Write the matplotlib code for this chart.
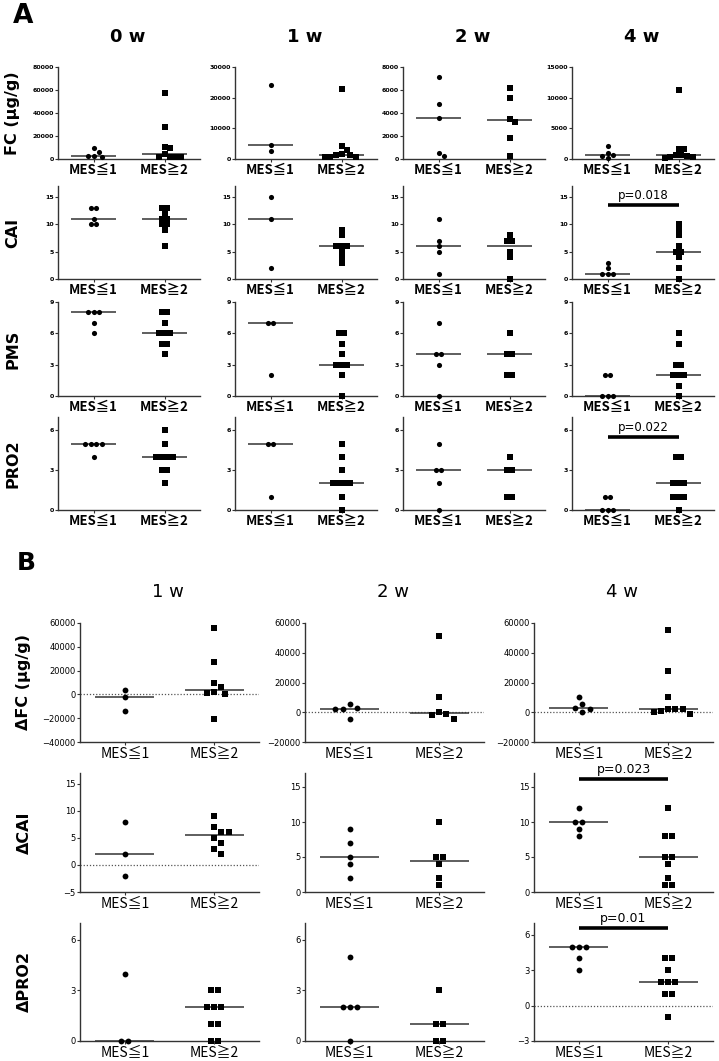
import numpy as np
import matplotlib
matplotlib.use("Agg")
import matplotlib.pyplot as plt
from matplotlib import font_manager

# ---- data ----
groups = ["MES≦1", "MES≧2"]
weeks_a = ["0 w", "1 w", "2 w", "4 w"]
weeks_b = ["1 w", "2 w", "4 w"]

# panel A: per week lists, MES<=1 (circles) and MES>=2 (squares)
fc_le1 = [[10000, 6500, 3000, 2500, 2000], [24200, 4500, 2700],
          [7100, 4800, 3600, 500, 300], [2100, 1000, 600, 500, 100]]
fc_ge2 = [[57500, 28000, 10500, 10000, 4000, 2000, 1800, 1500, 1500],
          [22800, 4200, 2800, 1500, 1300, 1200, 800, 700, 500],
          [6200, 5300, 3500, 3200, 1800, 300],
          [11300, 1700, 1600, 600, 600, 500, 400, 300, 200]]
cai_le1 = [[13, 13, 11, 10, 10], [15, 11, 2], [11, 7, 6, 5, 1], [3, 2, 1, 1, 1]]
cai_ge2 = [[13, 13, 12, 11, 11, 10, 10, 9, 6], [9, 8, 6, 6, 6, 5, 4, 3],
           [8, 7, 7, 5, 4, 0], [10, 9, 8, 6, 5, 5, 4, 2, 0]]
pms_le1 = [[8, 8, 8, 7, 6], [7, 7, 2], [7, 4, 4, 3, 0], [2, 2, 0, 0, 0]]
pms_ge2 = [[8, 8, 7, 6, 6, 6, 5, 5, 4], [6, 6, 5, 4, 3, 3, 3, 2, 0],
           [6, 4, 4, 2, 2], [6, 5, 3, 3, 2, 2, 2, 1, 0]]
pro2_le1 = [[5, 5, 5, 5, 4], [5, 5, 1], [5, 3, 3, 2, 0], [1, 1, 0, 0, 0]]
pro2_ge2 = [[6, 5, 4, 4, 4, 4, 3, 3, 2], [5, 4, 3, 2, 2, 2, 2, 1, 0],
            [4, 3, 3, 1, 1], [4, 4, 2, 2, 2, 1, 1, 1, 0]]

# panel B: change from baseline
dfc_le1 = [[4000, -2000, -14000], [5400, 3000, 2500, 2500, -4700],
           [10000, 5500, 3000, 2500, 500]]
dfc_ge2 = [[56000, 27000, 10000, 6000, 2000, 1000, 500, -20500],
           [51000, 10000, 200, -900, -2000, -4300],
           [55500, 28000, 10000, 2500, 2000, 2000, 1000, 500, -1500]]
dcai_le1 = [[8, 2, -2], [9, 7, 5, 4, 2], [12, 10, 10, 9, 8]]
dcai_ge2 = [[9, 7, 6, 6, 5, 4, 3, 2], [10, 5, 5, 4, 2, 1],
            [12, 8, 8, 5, 5, 4, 2, 1, 1]]
dpro2_le1 = [[4, 0, 0], [5, 2, 2, 2, 0], [5, 5, 5, 4, 3]]
dpro2_ge2 = [[3, 3, 2, 2, 2, 1, 1, 0, 0], [3, 1, 1, 0, 0],
             [4, 4, 3, 2, 2, 2, 1, 1, -1]]

# axis ranges and ticks
fc_lims = [80000, 30000, 8000, 15000]
fc_steps = [20000, 10000, 2000, 5000]
dfc_lims = [(-40000, 60000), (-20000, 60000), (-20000, 60000)]
dcai_lims = [(-5, 17), (0, 17), (0, 17)]
dpro2_lims = [(0, 7), (0, 7), (-3, 7)]

# significance bars: (row, col, y, text)
sig_a = [(1, 3, 13.6, "p=0.018"), (3, 3, 5.5, "p=0.022")]
sig_b = [(1, 2, 16.2, "p=0.023"), (2, 2, 6.56, "p=0.01")]

# ---- fonts ----
avail = {f.name for f in font_manager.fontManager.ttflist}
narrow = [f for f in ["Liberation Sans Narrow", "DejaVu Sans"] if f in avail]
lab_fam = [f for f in ["Noto Sans CJK JP", "DejaVu Sans"] if f in avail]

W, H = 719, 1061
fig = plt.figure(figsize=(W / 100, H / 100), dpi=100)


def make_ax(left, top, right, bottom):
    ax = fig.add_axes([left / W, 1 - bottom / H, (right - left) / W, (bottom - top) / H])
    for s in ["top", "right"]:
        ax.spines[s].set_visible(False)
    for s in ["left", "bottom"]:
        ax.spines[s].set_color("#333333")
        ax.spines[s].set_linewidth(1.0)
    ax.set_xlim(-0.5, 1.5)
    ax.tick_params(axis="both", length=2, width=0.8, color="#333333", pad=1)
    return ax


def swarm(ax, xc, vals, d_px):
    # place groups of equal values centred, shift a group sideways if it hits
    # points already placed (like a column scatter in Prism)
    vals = np.asarray(vals, dtype=float)
    pts = ax.transData.transform(np.column_stack([np.full(len(vals), xc), vals]))
    x0 = pts[0, 0]
    ypx = pts[:, 1]
    xs = np.zeros(len(vals))
    placed = []
    for v in sorted(set(vals), reverse=True):
        idx = np.where(vals == v)[0]
        n = len(idx)
        base = (np.arange(n) - (n - 1) / 2) * d_px
        y = ypx[idx[0]]
        for k in range(40):
            s = (k + 1) // 2 * (d_px / 2) * (1 if k % 2 else -1) if k else 0.0
            cand = base + s
            ok = all(np.hypot(cx - px, y - py) >= 0.95 * d_px
                     for cx in cand for px, py in placed)
            if ok:
                break
        for i, j in enumerate(idx):
            xs[j] = x0 + cand[i]
            placed.append((cand[i], y))
    return ax.transData.inverted().transform(np.column_stack([xs, ypx]))[:, 0]


def draw_groups(ax, le1, ge2, half, ms, d_px):
    for xc, vals, mk in [(0, le1, "o"), (1, ge2, "s")]:
        xs = swarm(ax, xc, vals, d_px)
        ax.plot(xs, vals, mk, color="black", ms=ms, mew=0, ls="none",
                clip_on=False, zorder=3)
        ax.hlines(np.median(vals), xc - half, xc + half, color="#333333",
                  lw=1.1, zorder=2)


def sig_bar(ax, y, text, fam, fs):
    ax.plot([0, 1], [y, y], color="black", lw=2.6, solid_capstyle="butt",
            clip_on=False, zorder=4)
    ax.annotate(text, (0.5, y), xytext=(0, 2), textcoords="offset points",
                ha="center", va="bottom", fontsize=fs, family=fam,
                annotation_clip=False)


# ---- panel A ----
a_left = [58, 235, 403, 572]
a_width = 142
a_top = [67, 186, 302, 417]
a_bot = [159, 279, 396, 510]
row_names_a = ["FC (μg/g)", "CAI", "PMS", "PRO2"]
data_a = [(fc_le1, fc_ge2), (cai_le1, cai_ge2), (pms_le1, pms_ge2), (pro2_le1, pro2_ge2)]

axes_a = {}
for r in range(4):
    for c in range(4):
        ax = make_ax(a_left[c], a_top[r], a_left[c] + a_width, a_bot[r])
        if r == 0:
            ax.set_ylim(0, fc_lims[c])
            ax.set_yticks(np.arange(0, fc_lims[c] + 1, fc_steps[c]))
        elif r == 1:
            ax.set_ylim(0, 17)
            ax.set_yticks([0, 5, 10, 15])
        elif r == 2:
            ax.set_ylim(0, 9)
            ax.set_yticks([0, 3, 6, 9])
        else:
            ax.set_ylim(0, 7)
            ax.set_yticks([0, 3, 6])
        ax.set_xticks([0, 1])
        ax.set_xticklabels(groups, fontsize=9.5, fontweight="bold", family=lab_fam)
        for t in ax.get_yticklabels():
            t.set_fontsize(4.5)
            t.set_fontweight("bold")
        le1, ge2 = data_a[r]
        draw_groups(ax, le1[c], ge2[c], 0.31, 3.7, 5.6)
        axes_a[(r, c)] = ax

for r, c, y, txt in sig_a:
    sig_bar(axes_a[(r, c)], y, txt, "DejaVu Sans", 8.5)

for c, wk in enumerate(weeks_a):
    fig.text((a_left[c] + 70) / W, 1 - 37 / H, wk, ha="center", va="center",
             fontsize=13, fontweight="bold")
for r, name in enumerate(row_names_a):
    fig.text(13 / W, 1 - (a_top[r] + a_bot[r]) / 2 / H, name, rotation=90,
             ha="center", va="center", fontsize=11.5, fontweight="bold")
fig.text(23 / W, 1 - 16 / H, "A", ha="center", va="center", fontsize=19,
         fontweight="bold")

# ---- panel B ----
b_left = [80, 305, 534]
b_width = 179
b_top = [623, 773, 923]
b_bot = [742, 892, 1041]
row_names_b = ["ΔFC (μg/g)", "ΔCAI", "ΔPRO2"]
data_b = [(dfc_le1, dfc_ge2), (dcai_le1, dcai_ge2), (dpro2_le1, dpro2_ge2)]

axes_b = {}
for r in range(3):
    for c in range(3):
        ax = make_ax(b_left[c], b_top[r], b_left[c] + b_width, b_bot[r])
        if r == 0:
            lo, hi = dfc_lims[c]
            ax.set_ylim(lo, hi)
            ax.set_yticks(np.arange(lo, hi + 1, 20000))
        elif r == 1:
            lo, hi = dcai_lims[c]
            ax.set_ylim(lo, hi)
            ax.set_yticks(np.arange(lo, 16, 5))
        else:
            lo, hi = dpro2_lims[c]
            ax.set_ylim(lo, hi)
            ax.set_yticks(np.arange(lo, 7, 3))
        if lo < 0:
            ax.axhline(0, ls=(0, (1, 1.5)), color="#555555", lw=0.9, zorder=1)
        ax.set_xticks([0, 1])
        ax.set_xticklabels(groups, fontsize=10, family=lab_fam)
        for t in ax.get_yticklabels():
            t.set_fontsize(6)
            t.set_family(narrow)
        le1, ge2 = data_b[r]
        draw_groups(ax, le1[c], ge2[c], 0.33, 4.2, 7.2)
        axes_b[(r, c)] = ax

for r, c, y, txt in sig_b:
    sig_bar(axes_b[(r, c)], y, txt, narrow, 9)

for c, wk in enumerate(weeks_b):
    fig.text((b_left[c] + 88) / W, 1 - 592 / H, wk, ha="center", va="center",
             fontsize=13, family=narrow)
for r, name in enumerate(row_names_b):
    fig.text(24 / W, 1 - (b_top[r] + b_bot[r]) / 2 / H, name, rotation=90,
             ha="center", va="center", fontsize=11.5, fontweight="bold")
fig.text(26 / W, 1 - 563 / H, "B", ha="center", va="center", fontsize=18,
         fontweight="bold")

fig.savefig("out.png", dpi=100)
